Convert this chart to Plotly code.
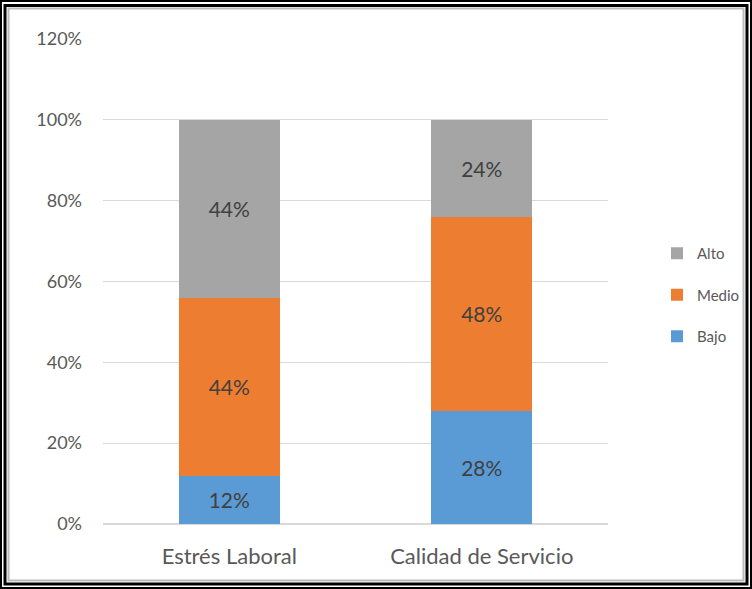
import plotly.graph_objects as go

categories = ["Estrés Laboral", "Calidad de Servicio"]
bajo = [0.12, 0.28]
medio = [0.44, 0.48]
alto = [0.44, 0.24]
series_names = ["Bajo", "Medio", "Alto"]
series_colors = ["#5B9BD5", "#ED7D31", "#A5A5A5"]
legend_ranks = [3, 2, 1]
tick_vals = [0, 0.2, 0.4, 0.6, 0.8, 1.0, 1.2]
tick_text = ["0%", "20%", "40%", "60%", "80%", "100%", "120%"]

W, H = 752, 589
L, R, T, B = 103, 144, 39, 65
PW, PH = W - L - R, H - T - B

def px(x):
    return (x - L) / PW

def py(y):
    return (H - B - y) / PH

fig = go.Figure()
for name, vals, col, rk in zip(series_names, [bajo, medio, alto], series_colors, legend_ranks):
    fig.add_trace(go.Bar(
        x=categories, y=vals, name=name, marker=dict(color=col, line=dict(width=0)),
        texttemplate="%{y:.0%}", textposition="inside", insidetextanchor="middle",
        textangle=0, textfont=dict(color="#404040", size=21, family="Lato"),
        legendgroup=name, legendrank=rk,
    ))

fig.update_layout(
    barmode="stack", bargap=0.6,
    width=W, height=H,
    margin=dict(l=L, r=R, t=T, b=B, pad=0, autoexpand=False),
    paper_bgcolor="white", plot_bgcolor="white",
    font=dict(family="Lato", color="#595959", size=18),
    xaxis=dict(showgrid=False, showline=False, ticks="", tickfont=dict(size=22),
               ticklabelstandoff=17),
    yaxis=dict(range=[0, 1.2], tickvals=tick_vals, ticktext=tick_text,
               showgrid=True, gridcolor="#D9D9D9", gridwidth=1, zeroline=True,
               zerolinecolor="#D9D9D9", showline=False, ticks="", ticklabelstandoff=20,
               tickfont=dict(size=18)),
    legend=dict(x=px(657), y=py(295), xanchor="left", yanchor="middle",
                traceorder="grouped", tracegroupgap=19, bgcolor="rgba(0,0,0,0)",
                font=dict(size=15, color="#595959"), itemwidth=30),
    showlegend=True,
)

# frame
shapes = [
    dict(type="rect", xref="paper", yref="paper", x0=px(1), x1=px(751), y0=py(1), y1=py(588),
         line=dict(color="black", width=2), fillcolor="rgba(0,0,0,0)", layer="above"),
    dict(type="rect", xref="paper", yref="paper", x0=px(5), x1=px(747), y0=py(5.5), y1=py(584),
         line=dict(color="black", width=3), fillcolor="rgba(0,0,0,0)", layer="above"),
    dict(type="rect", xref="paper", yref="paper", x0=px(8.5), x1=px(743.5), y0=py(8.5), y1=py(580.5),
         line=dict(color="#BBBBBB", width=2), fillcolor="rgba(0,0,0,0)", layer="above"),
]
fig.update_layout(shapes=shapes)
fig.write_html("out.html")
